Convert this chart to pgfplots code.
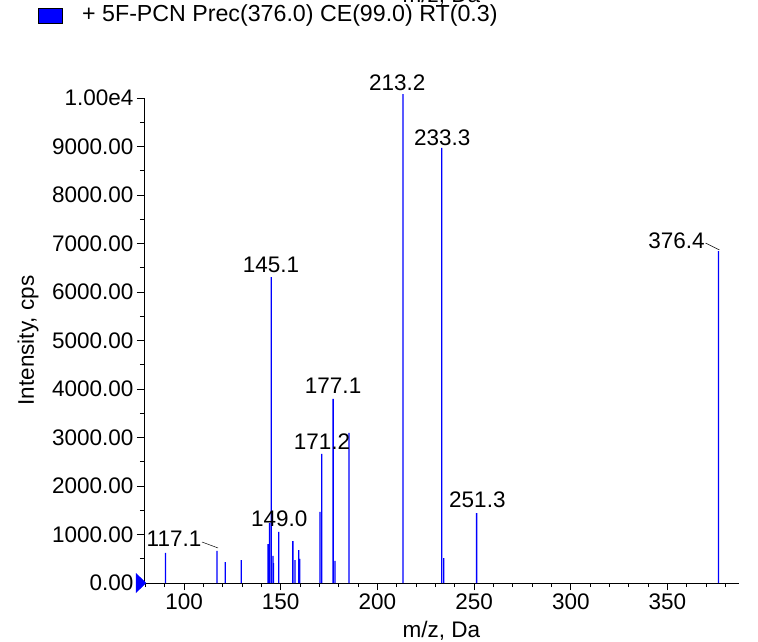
\documentclass[border=0pt]{standalone}
\usepackage{fontspec}
\setmainfont{Liberation Sans}
\usepackage{pgfplots}
\pgfplotsset{compat=1.18}

\definecolor{peak}{RGB}{0,0,255}
\newcommand{\lbl}{\fontsize{22.5}{27}\selectfont}

\begin{document}
\begin{tikzpicture}[x=1pt,y=1pt]
\useasboundingbox (0,0) rectangle (758,641);
% label of the panel above, cut off by the page edge
\node[anchor=base, inner sep=0, font=\lbl] at (441.5,638.5) {m/z, Da};
% legend
\draw[fill=peak, line width=0.5pt] (38,618) rectangle (62,633);
\node[anchor=base west, inner sep=0, font=\fontsize{23.2}{27}\selectfont] at (82,619) {+ 5F-PCN Prec(376.0) CE(99.0) RT(0.3)};

\begin{axis}[
  at={(144pt,58pt)}, anchor=south west,
  scale only axis, width=595pt, height=485pt,
  xmin=79.3, xmax=387, ymin=0, ymax=10000,
  axis lines*=left, clip=false,
  axis line style={line width=0.8pt},
  xtick={100,150,...,350}, minor xtick={80,90,...,380},
  ytick={0,1000,...,10000}, minor ytick={500,1500,...,9500},
  scaled y ticks=false,
  yticklabels={0.00,1000.00,2000.00,3000.00,4000.00,5000.00,6000.00,7000.00,8000.00,9000.00,1.00e4},
  tick align=outside, major tick length=7pt, minor tick length=4pt,
  tick style={black, line width=0.8pt},
  ticklabel style={font=\lbl},
  /pgf/number format/assume math mode=true,
  xlabel={m/z, Da}, ylabel={Intensity, cps},
  every axis x label/.style={at={(axis description cs:0.5,0)}, yshift=-48pt, anchor=center, font=\lbl},
  every axis y label/.style={at={(axis description cs:0,0.5)}, xshift=-116pt, anchor=center, rotate=90, font=\lbl},
]
\addplot[ybar, bar width=1.3pt, fill=peak, draw=none, mark=none] coordinates {
  (90.4,619) (117.1,660) (121.3,433) (129.6,474) (143.5,804) (144.2,1237)
  (145.1,6309) (146.0,557) (146.3,412) (149.0,1052) (156.3,866) (157.4,474)
  (159.3,680) (159.8,495) (170.3,1464) (171.2,2660) (177.1,3794) (178.1,454)
  (185.3,3093) (213.2,10080) (233.3,8970) (234.3,515) (251.3,1443) (376.4,6845)
};
\addplot[only marks, mark=triangle*, mark size=11pt,
  mark options={fill=peak, draw=peak, rotate=-90, yscale=0.6}] coordinates {(76.9,0)};

\node[font=\lbl] at (axis cs:210.3,10309) {213.2};
\node[font=\lbl] at (axis cs:233.5,9175) {233.3};
\node[font=\lbl] at (axis cs:354.7,7052) {376.4};
\draw[line width=0.5pt] (axis cs:369.7,7010) -- (axis cs:376.9,6866);
\node[font=\lbl] at (axis cs:251.7,1711) {251.3};
\node[font=\lbl] at (axis cs:145.0,6557) {145.1};
\node[font=\lbl] at (axis cs:177.1,4062) {177.1};
\node[font=\lbl] at (axis cs:171.4,2907) {171.2};
\node[font=\lbl] at (axis cs:149.2,1320) {149.0};
\node[font=\lbl] at (axis cs:94.8,907) {117.1};
\draw[line width=0.5pt] (axis cs:109.3,845) -- (axis cs:117.6,722);
\end{axis}
\end{tikzpicture}
\end{document}
